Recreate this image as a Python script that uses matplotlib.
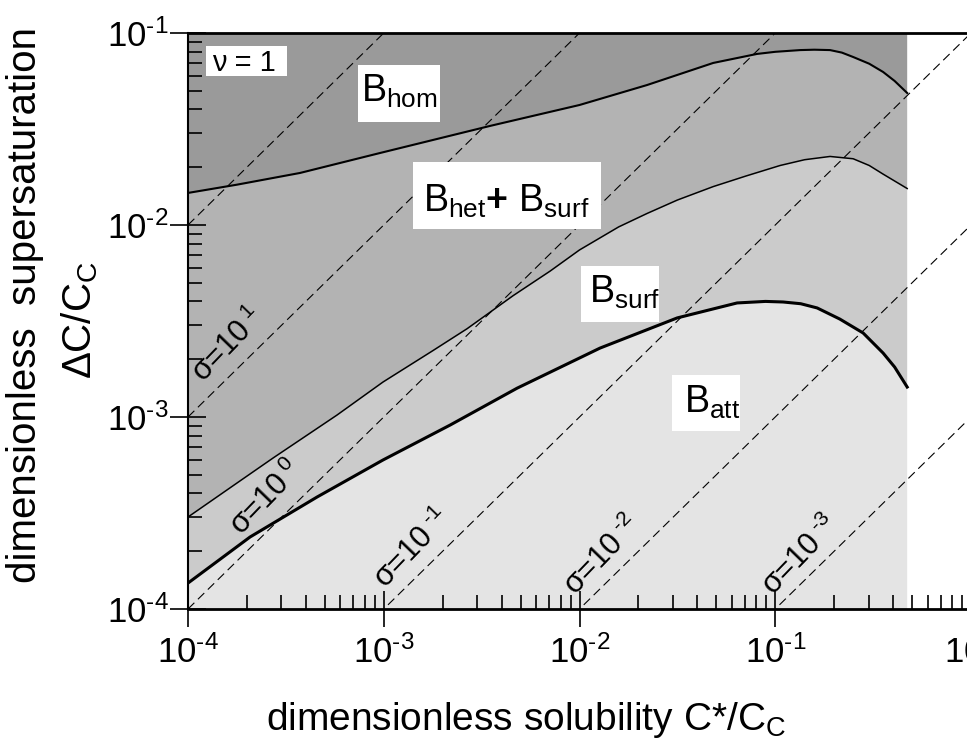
import numpy as np
import matplotlib
matplotlib.use("Agg")
import matplotlib.pyplot as plt
from matplotlib.ticker import LogLocator, FuncFormatter, NullFormatter
from matplotlib.patches import Rectangle

plt.rcParams['font.family'] = ['Liberation Sans', 'DejaVu Sans']
plt.rcParams['mathtext.fontset'] = 'custom'
plt.rcParams['mathtext.rm'] = 'Liberation Sans'
plt.rcParams['mathtext.it'] = 'Liberation Sans:italic'
plt.rcParams['mathtext.bf'] = 'Liberation Sans:bold'
plt.rcParams['mathtext.default'] = 'regular'

# ---- data (log10 values) ----
hom_logx = [-4.0, -3.75, -3.428, -3.019, -2.457, -2.0, -1.655, -1.317, -1.093,
            -1.0, -0.873, -0.8, -0.72, -0.66, -0.602, -0.52, -0.449, -0.39, -0.326]
hom_logy = [-1.833, -1.79, -1.729, -1.625, -1.484, -1.375, -1.271, -1.156, -1.109,
            -1.098, -1.089, -1.087, -1.089, -1.102, -1.125, -1.16, -1.203, -1.25, -1.3125]

het_logx = [-4.0, -3.75, -3.566, -3.239, -3.004, -2.75, -2.574, -2.339, -2.15, -2.0,
            -1.8, -1.655, -1.5, -1.317, -1.15, -0.975, -0.85, -0.72, -0.602, -0.52,
            -0.449, -0.326]
het_logy = [-3.521, -3.344, -3.214, -2.990, -2.818, -2.655, -2.540, -2.368, -2.24, -2.13,
            -2.01, -1.94, -1.87, -1.80, -1.745, -1.69, -1.66, -1.643, -1.655, -1.69,
            -1.735, -1.81]

att_logx = [-4.0, -3.683, -3.341, -3.004, -2.661, -2.319, -1.895, -1.501, -1.195,
            -1.05, -0.96, -0.87, -0.786, -0.67, -0.551, -0.449, -0.39, -0.326]
att_logy = [-3.865, -3.625, -3.417, -3.224, -3.042, -2.85, -2.641, -2.484, -2.406,
            -2.398, -2.401, -2.41, -2.432, -2.49, -2.5625, -2.667, -2.74, -2.844]

sigmas = [100, 10, 1, 0.1, 0.01, 0.001]
sigma_labels = [r'σ=10$^{\ 1}$', r'σ=10$^{\ 0}$', r'σ=10$^{\ \text{-}1}$',
                r'σ=10$^{\ \text{-}2}$', r'σ=10$^{\ \text{-}3}$']

xh, yh = 10 ** np.array(hom_logx), 10 ** np.array(hom_logy)
xe, ye = 10 ** np.array(het_logx), 10 ** np.array(het_logy)
xa, ya = 10 ** np.array(att_logx), 10 ** np.array(att_logy)

W, H = 967, 740
fig = plt.figure(figsize=(W / 100, H / 100), dpi=100)
AX_L, AX_T, AX_W, AX_H = 188, 33, 783, 576
ax = fig.add_axes([AX_L / W, 1 - (AX_T + AX_H) / H, AX_W / W, AX_H / H])
ax.set_xscale('log')
ax.set_yscale('log')
ax.set_xlim(1e-4, 1)
ax.set_ylim(1e-4, 1e-1)
ylo, yhi = 1e-4, 1e-1


def poly(x1, y1, x2, y2):
    return np.concatenate([x1, x2[::-1]]), np.concatenate([y1, y2[::-1]])


px, py = poly(xh, yh, xh, np.full_like(xh, yhi))
ax.fill(px, py, color='#9a9a9a', lw=0, zorder=1)
px, py = poly(xe, ye, xh, yh)
ax.fill(px, py, color='#b3b3b3', lw=0, zorder=1)
px, py = poly(xa, ya, xe, ye)
ax.fill(px, py, color='#cbcbcb', lw=0, zorder=1)
px, py = poly(xa, np.full_like(xa, ylo), xa, ya)
ax.fill(px, py, color='#e4e4e4', lw=0, zorder=1)

ax.plot(xh, yh, color='black', lw=1.5, zorder=3, solid_joinstyle='round')
ax.plot(xe, ye, color='black', lw=1.1, zorder=3, solid_joinstyle='round')
ax.plot(xa, ya, color='black', lw=2.2, zorder=3, solid_joinstyle='round')

xs = np.array([1e-4, 1.0])
for s in sigmas:
    ax.plot(xs, s * xs, color='black', lw=0.8, dashes=(8, 4.5), zorder=2)


def axp(x, y):
    """pixel position -> axes fraction"""
    return (x - AX_L) / AX_W, (AX_T + AX_H - y) / AX_H


lab_pos = [(228, 345), (267, 498), (413, 549), (603, 556), (801, 556)]
for (lx, ly), t in zip(lab_pos, sigma_labels):
    fx, fy = axp(lx, ly)
    ax.text(fx, fy, t, transform=ax.transAxes, fontsize=22, rotation=46,
            rotation_mode='anchor', ha='center', va='center', zorder=4)

# white label boxes (pixel boxes) and label texts (left, baseline)
boxes = [(206, 46, 287, 76), (358, 65, 440, 122), (413, 162, 601, 229),
         (581, 266, 659, 322), (672, 375, 740, 431)]
texts = [('ν = 1', 212, 71, 21),
         (r'B$_{hom}$', 361, 102, 27),
         (r'B$_{het}$$\mathbf{+}$ B$_{surf}$', 423, 212, 27),
         (r'B$_{surf}$', 589, 303, 27),
         (r'B$_{att}$', 684, 413, 27)]
for (x0, y0, x1, y1) in boxes:
    fx0, fy0 = axp(x0, y1)
    fx1, fy1 = axp(x1, y0)
    ax.add_patch(Rectangle((fx0, fy0), fx1 - fx0, fy1 - fy0, transform=ax.transAxes,
                           facecolor='white', edgecolor='none', zorder=5))
for t, tx, ty, fs in texts:
    fx, fy = axp(tx, ty)
    ax.text(fx, fy, t, transform=ax.transAxes, fontsize=fs, ha='left',
            va='baseline', zorder=6)

ax.spines['right'].set_visible(False)
ax.spines['top'].set_linewidth(2.0)
ax.spines['bottom'].set_linewidth(2.0)
ax.spines['left'].set_linewidth(1.5)
for sp in ax.spines.values():
    sp.set_zorder(7)


def fmt(v, pos):
    e = int(round(np.log10(v)))
    if e < 0:
        return r'10$^{\text{-}%d}$' % (-e)
    return r'10$^{%d}$' % e


ax.xaxis.set_major_locator(LogLocator(base=10, numticks=10))
ax.yaxis.set_major_locator(LogLocator(base=10, numticks=10))
ax.xaxis.set_minor_locator(LogLocator(base=10, subs=np.arange(2, 10), numticks=20))
ax.yaxis.set_minor_locator(LogLocator(base=10, subs=np.arange(2, 10), numticks=20))
ax.xaxis.set_major_formatter(FuncFormatter(fmt))
ax.yaxis.set_major_formatter(FuncFormatter(fmt))
ax.xaxis.set_minor_formatter(NullFormatter())
ax.yaxis.set_minor_formatter(NullFormatter())

ax.tick_params(which='major', direction='inout', length=26, width=1.2, labelsize=25)
ax.tick_params(axis='x', which='major', pad=6)
ax.tick_params(axis='y', which='major', pad=1)
ax.tick_params(which='minor', direction='in', length=10, width=1.2)
ax.tick_params(top=False, right=False, which='both')

ax.set_xlabel(r'dimensionless solubility C*/C$_{C}$', fontsize=28, labelpad=2)
ax.xaxis.set_label_coords((526 - AX_L) / AX_W, -0.158)

fig.text(25 / W, 1 - 305 / H, 'dimensionless  supersaturation', rotation=90,
         fontsize=29, ha='center', va='center')
fig.text(80 / W, 1 - 320 / H, r'$\Delta$C/C$_{C}$', rotation=90,
         fontsize=29, ha='center', va='center')

fig.savefig('out.png', dpi=100)
